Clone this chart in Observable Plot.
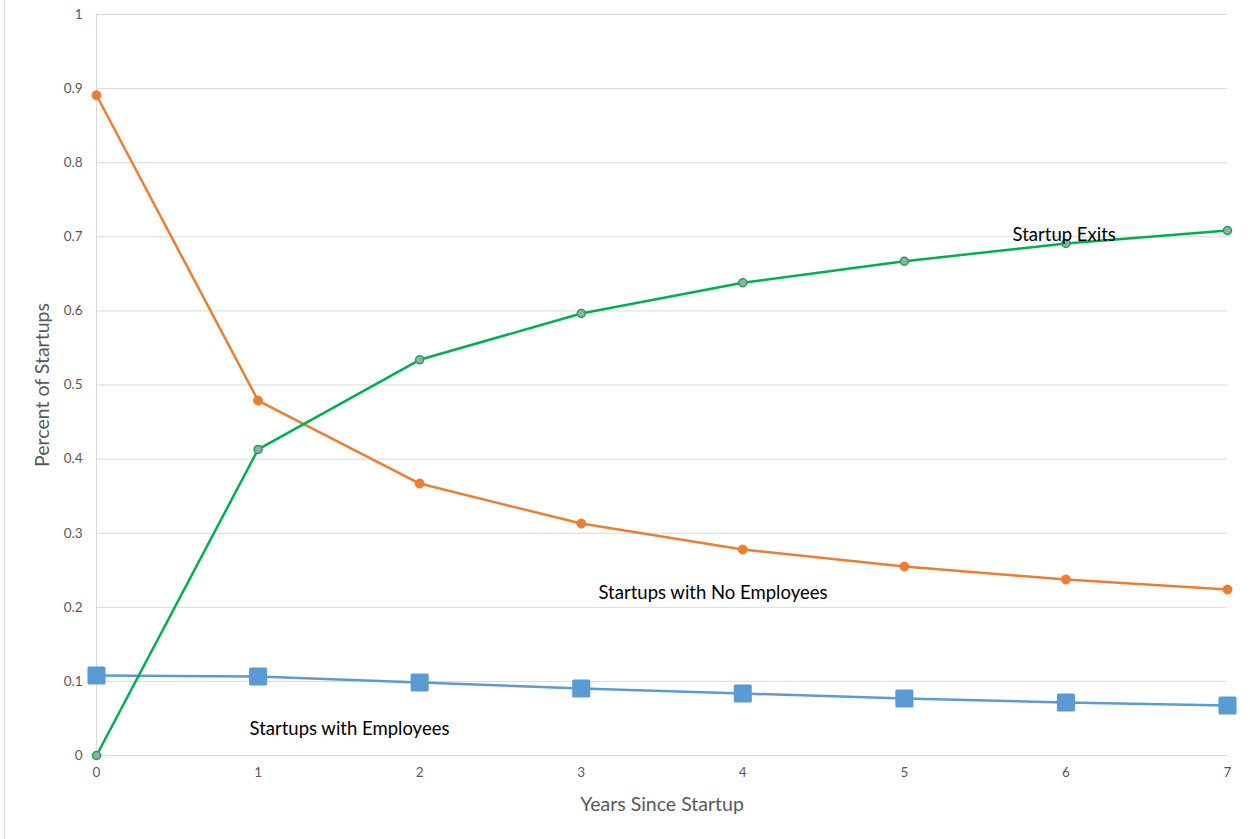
<!DOCTYPE html>
<html>
<head>
<meta charset="utf-8">
<script src="https://cdn.jsdelivr.net/npm/d3@7"></script>
<script src="https://cdn.jsdelivr.net/npm/@observablehq/plot@0.6"></script>
<style>
  html, body { margin: 0; padding: 0; background: #fff; }
  #wrap { position: relative; width: 1250px; height: 839px; }
  #frame { position: absolute; left: 4px; top: 0; width: 1px; height: 839px; background: #d9d9d9; }
  svg { font-family: Lato, "Open Sans", sans-serif; }
</style>
</head>
<body>
<div id="wrap"><div id="frame"></div><div id="chart"></div></div>
<script>
const years = [0, 1, 2, 3, 4, 5, 6, 7];
const noEmployees = [0.891, 0.479, 0.367, 0.313, 0.278, 0.255, 0.2375, 0.224];
const exits = [0, 0.413, 0.534, 0.5965, 0.638, 0.667, 0.691, 0.7085];
const withEmployees = [0.108, 0.1066, 0.0985, 0.0904, 0.0837, 0.077, 0.0715, 0.0675];
const yTicks = [0, 0.1, 0.2, 0.3, 0.4, 0.5, 0.6, 0.7, 0.8, 0.9, 1];
const labels = ["Startup Exits", "Startups with No Employees", "Startups with Employees"];
const labelX = [5.67, 3.107, 0.947];
const labelY = [0.702, 0.2186, 0.035];

const orange = "#ED7D31", green = "#00B050", blue = "#5B9BD5", grey = "#A5A5A5";
const rows = s => years.map((x, i) => ({x, y: s[i]}));
const noEmp = rows(noEmployees), ex = rows(exits), wEmp = rows(withEmployees);
const lab = labels.map((t, i) => ({t, x: labelX[i], y: labelY[i]}));

const chart = Plot.plot({
  width: 1250, height: 839,
  marginLeft: 96, marginRight: 23, marginTop: 14, marginBottom: 84,
  style: {fontFamily: "Lato, 'Open Sans', sans-serif", background: "#fff"},
  x: {domain: [0, 7]},
  y: {domain: [0, 1]},
  marks: [
    Plot.gridY(yTicks, {stroke: "#d9d9d9", strokeOpacity: 1, strokeWidth: 1}),
    Plot.ruleX([0], {stroke: "#d9d9d9", strokeWidth: 1}),
    Plot.axisX({ticks: years, tickSize: 0, tickPadding: 12, fontSize: 13.5, color: "#595959", label: null, tickFormat: d => String(d)}),
    Plot.axisY({ticks: yTicks, tickSize: 0, tickPadding: 14, fontSize: 13.5, color: "#595959", label: null, tickFormat: d => String(+d.toFixed(1))}),
    Plot.text(["Years Since Startup"], {frameAnchor: "bottom", textAnchor: "middle", dy: 55, fontSize: 19.5, fill: "#595959"}),
    Plot.text(["Percent of Startups"], {frameAnchor: "left", textAnchor: "middle", dx: -54, rotate: -90, fontSize: 19.5, fill: "#595959"}),
    Plot.line(wEmp, {x: "x", y: "y", stroke: blue, strokeWidth: 2.5}),
    Plot.dot(wEmp, {x: "x", y: "y", symbol: "square", r: 8.5, fill: blue, stroke: blue, strokeWidth: 3, strokeLinejoin: "round"}),
    Plot.line(noEmp, {x: "x", y: "y", stroke: orange, strokeWidth: 2.5}),
    Plot.dot(noEmp, {x: "x", y: "y", r: 4.5, fill: orange, stroke: orange, strokeWidth: 1}),
    Plot.line(ex, {x: "x", y: "y", stroke: green, strokeWidth: 2.5}),
    Plot.dot(ex, {x: "x", y: "y", r: 4, fill: grey, stroke: green, strokeWidth: 1.5}),
    Plot.text(lab, {x: "x", y: "y", text: "t", textAnchor: "start", fontSize: 18.5, fill: "#000"})
  ]
});
document.getElementById("chart").appendChild(chart);
</script>
</body>
</html>
